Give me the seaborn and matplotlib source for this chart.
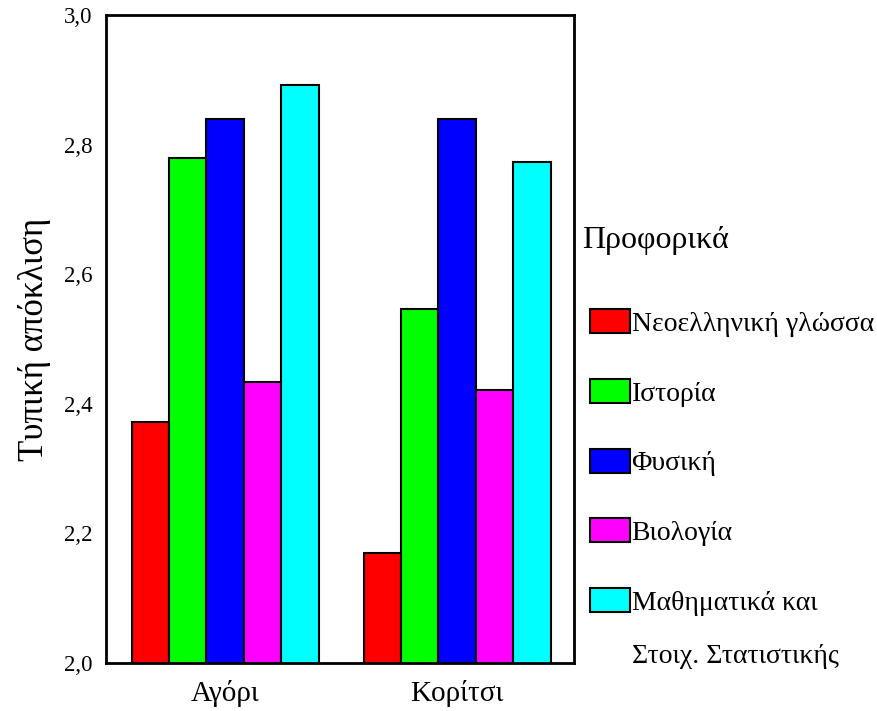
import matplotlib
matplotlib.use("Agg")
import matplotlib.pyplot as plt
import seaborn as sns
import pandas as pd

# ------- DATA ---------
groups = ["Αγόρι", "Κορίτσι"]
subjects = ["Νεοελληνική γλώσσα", "Ιστορία", "Φυσική", "Βιολογία", "Μαθηματικά και"]
boys = [2.372, 2.779, 2.839, 2.433, 2.892]
girls = [2.170, 2.546, 2.839, 2.422, 2.773]
colors = ["#ff0000", "#00ff00", "#0000ff", "#ff00ff", "#00ffff"]
y_ticks = [2.0, 2.2, 2.4, 2.6, 2.8, 3.0]

df = pd.DataFrame({
    "group": [g for g in groups for _ in subjects],
    "subject": subjects * 2,
    "value": boys + girls,
})

sns.set_theme(style="white")
plt.rcParams["font.family"] = ["Liberation Serif", "DejaVu Serif"]
plt.rcParams.update({"text.color": "black", "axes.labelcolor": "black",
                     "xtick.color": "black", "ytick.color": "black"})

fig = plt.figure(figsize=(8.77, 7.11), dpi=100)
ax = fig.add_axes([0.121, 0.0675, 0.5335, 0.9115])

sns.barplot(data=df, x="group", y="value", hue="subject", hue_order=subjects,
            palette=colors, width=0.806, edgecolor="black", linewidth=1.5,
            saturation=1, ax=ax)

ax.set_ylim(2.0, 3.0)
ax.set_xlim(-0.513, 1.504)
ax.set_yticks(y_ticks)
ax.set_yticklabels([f"{t:.1f}".replace(".", ",") for t in y_ticks], fontsize=16.5)
ax.tick_params(axis="x", labelsize=21, length=4, width=2, direction="out", pad=8)
ax.tick_params(axis="y", length=4, width=2, direction="out", pad=6)
ax.set_xlabel("")
ax.set_ylabel("Τυπική απόκλιση", fontsize=25, labelpad=9)
for sp in ax.spines.values():
    sp.set_linewidth(2)
    sp.set_color("black")

# ------- LEGEND ---------
handles, labels = ax.get_legend_handles_labels()
ax.get_legend().remove()
ax.legend(handles, labels, loc="upper left", bbox_to_anchor=(1.005, 0.567),
          frameon=False, fontsize=20, handlelength=1.44, handleheight=0.94,
          handletextpad=0.05, labelspacing=1.52, borderpad=0)
fig.text(0.6636, 0.6624, "Προφορικά", fontsize=23, ha="left", va="center")
fig.text(0.7206, 0.076, "Στοιχ. Στατιστικής", fontsize=20, ha="left", va="center")

fig.savefig("out.png", dpi=100)
